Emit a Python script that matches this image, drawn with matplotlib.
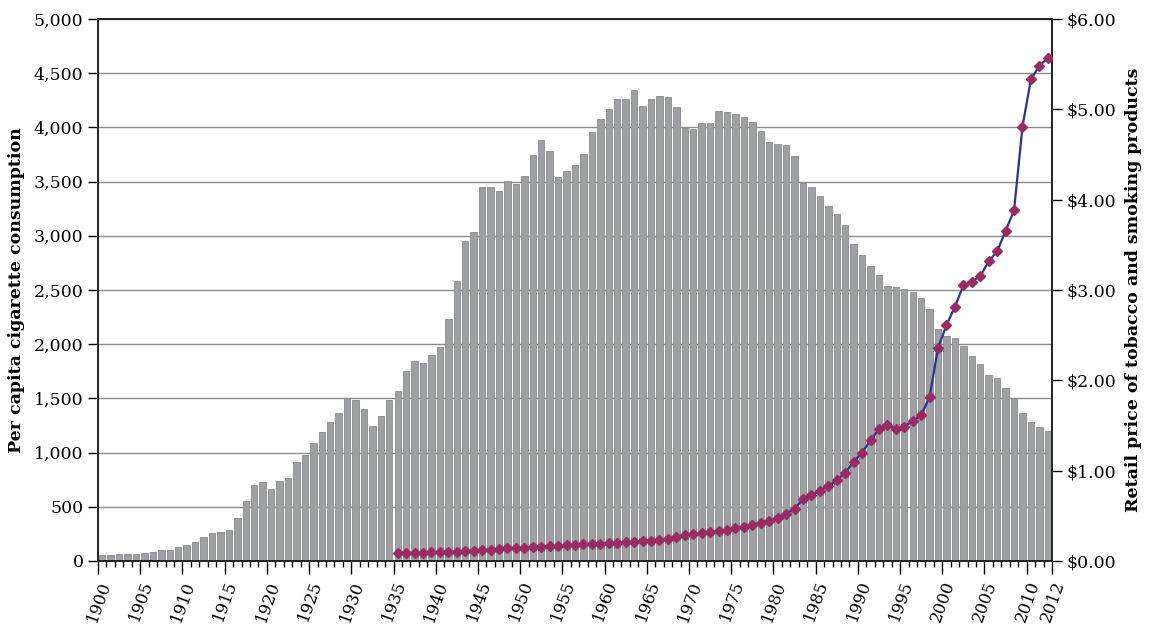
import matplotlib
matplotlib.use("Agg")
import matplotlib.pyplot as plt
import numpy as np
from matplotlib.ticker import FuncFormatter, MultipleLocator

years = list(range(1900, 2013))
consumption = [
    54, 53, 60, 64, 66, 70, 86, 99, 105, 125,
    151, 173, 223, 260, 267, 285, 395, 551, 697, 727,
    665, 742, 770, 911, 982, 1085, 1191, 1279, 1366, 1504,
    1485, 1399, 1245, 1334, 1483, 1564, 1754, 1847, 1830, 1900,
    1976, 2236, 2585, 2956, 3039, 3449, 3446, 3416, 3505, 3480,
    3552, 3744, 3886, 3778, 3546, 3597, 3650, 3755, 3953, 4073,
    4171, 4266, 4265, 4345, 4194, 4258, 4287, 4280, 4186, 3993,
    3985, 4037, 4043, 4148, 4141, 4123, 4092, 4051, 3967, 3861,
    3851, 3836, 3739, 3488, 3446, 3370, 3274, 3197, 3096, 2926,
    2826, 2720, 2641, 2538, 2524, 2505, 2482, 2423, 2320, 2136,
    2076, 2058, 1982, 1890, 1814, 1716, 1691, 1600, 1500, 1365,
    1280, 1232, 1196,
]

price_years = list(range(1935, 2013))
price = [
    0.09, 0.09, 0.09, 0.09, 0.095, 0.099, 0.10, 0.103, 0.111, 0.115,
    0.123, 0.127, 0.132, 0.140, 0.144, 0.148, 0.152, 0.160, 0.164, 0.169,
    0.173, 0.181, 0.185, 0.189, 0.193, 0.197, 0.201, 0.206, 0.214, 0.218,
    0.226, 0.234, 0.245, 0.263, 0.284, 0.296, 0.308, 0.316, 0.329, 0.345,
    0.366, 0.378, 0.399, 0.419, 0.448, 0.473, 0.522, 0.575, 0.686, 0.727,
    0.777, 0.830, 0.892, 0.974, 1.097, 1.200, 1.336, 1.459, 1.508, 1.459,
    1.488, 1.550, 1.611, 1.817, 2.359, 2.610, 2.815, 3.050, 3.091, 3.153,
    3.317, 3.428, 3.654, 3.880, 4.809, 5.331, 5.483, 5.565,
]

major_tick_years = list(range(1900, 2011, 5))
major_tick_labels = [str(y) for y in major_tick_years] + ["2012"]

plt.rcParams['font.family'] = ['DejaVu Serif']

fig = plt.figure(figsize=(11.49, 6.24), dpi=100)
ax = fig.add_axes([0.0853, 0.1010, 0.9156 - 0.0853, 0.9696 - 0.1010])

bar_x = np.array(years) + 0.5
ax.bar(bar_x, consumption, width=0.76, color='#9fa0a4', edgecolor='#8a8b8f',
       linewidth=0.6, zorder=2)

ax.set_xlim(1900, 2013)
ax.set_ylim(0, 5000)
ax.yaxis.set_major_locator(MultipleLocator(500))
ax.yaxis.set_major_formatter(FuncFormatter(lambda v, p: f"{int(v):,}"))
ax.grid(axis='y', color='#8c8c8c', linewidth=1.0, zorder=1)
ax.set_axisbelow(True)

ax.set_xticks(major_tick_years + [2013])
ax.set_xticklabels(major_tick_labels, rotation=70, ha='right', va='top',
                   rotation_mode='anchor', fontsize=12)
ax.set_xticks(np.arange(1900, 2014), minor=True)
ax.tick_params(axis='x', which='major', length=9, width=1.0, direction='out', pad=3.5)
ax.tick_params(axis='x', which='minor', length=4.3, width=1.0, direction='out')
ax.tick_params(axis='y', which='major', length=7, width=1.0, direction='out',
               labelsize=12.5, pad=3.5)

for s in ['left', 'bottom', 'right', 'top']:
    ax.spines[s].set_color('#222222')
    ax.spines[s].set_linewidth(1.2)

ax.set_ylabel('Per capita cigarette consumption', fontsize=12.5,
              fontweight='bold', labelpad=6)

ax2 = ax.twinx()
px = np.array(price_years) + 0.5
ax2.plot(px, price, color='#2b2fa0', linewidth=1.6, zorder=3)
ax2.plot(px, price, linestyle='none', marker='D', markersize=5.5,
         color='#9b2a60', zorder=4)
ax2.set_ylim(0, 6)
ax2.yaxis.set_major_locator(MultipleLocator(1))
ax2.yaxis.set_major_formatter(FuncFormatter(lambda v, p: f"${v:.2f}"))
ax2.tick_params(axis='y', which='major', length=7, width=1.0, direction='out',
                labelsize=12.5, pad=3.5)
ax2.set_ylabel('Retail price of tobacco and smoking products', fontsize=12.5,
               fontweight='bold', labelpad=6)
for s in ['left', 'bottom', 'right', 'top']:
    ax2.spines[s].set_color('#222222')
    ax2.spines[s].set_linewidth(1.2)

fig.savefig('out.png', dpi=100)
